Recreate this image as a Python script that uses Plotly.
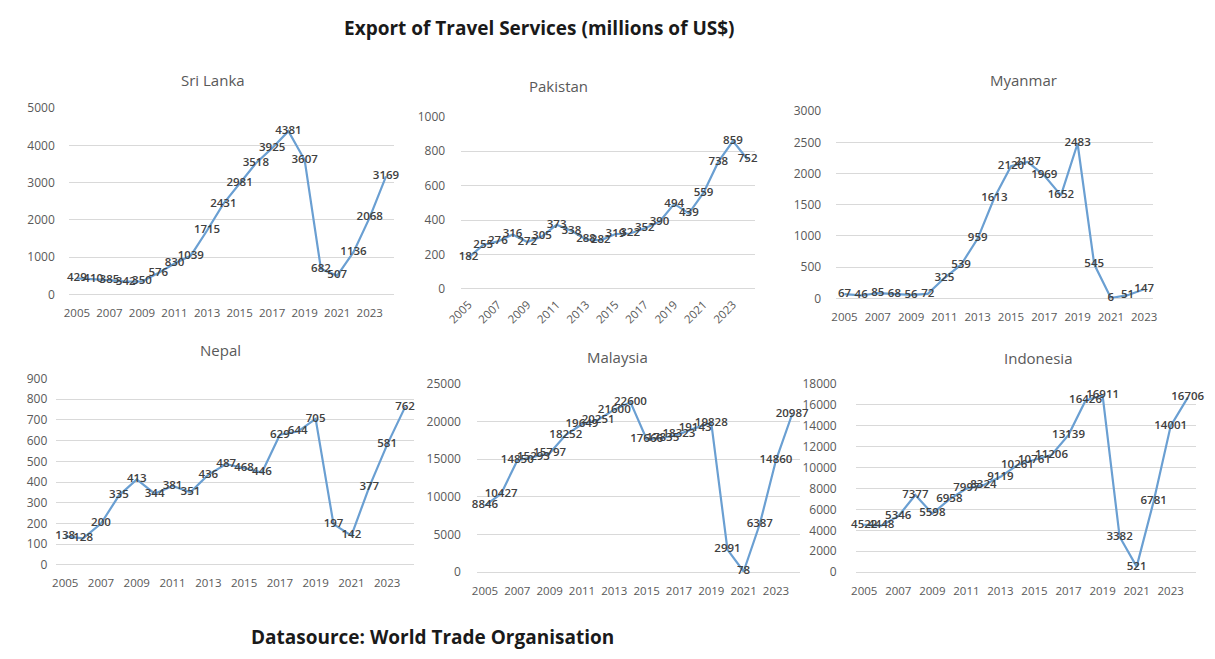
import plotly.graph_objects as go

W, H = 1215, 659

years_20 = list(range(2005, 2025))
years_19 = list(range(2005, 2024))

sri_lanka = [429, 410, 385, 342, 350, 576, 830, 1039, 1715, 2431,
             2981, 3518, 3925, 4381, 3607, 682, 507, 1136, 2068, 3169]
pakistan = [182, 255, 276, 316, 272, 305, 373, 338, 288, 282,
            319, 322, 352, 390, 494, 439, 559, 738, 859, 752]
myanmar = [67, 46, 85, 68, 56, 72, 325, 539, 959, 1613,
           2120, 2187, 1969, 1652, 2483, 545, 6, 51, 147]
nepal = [138, 128, 200, 335, 413, 344, 381, 351, 436, 487,
         468, 446, 629, 644, 705, 197, 142, 377, 581, 762]
malaysia = [8846, 10427, 14850, 15293, 15797, 18252, 19649, 20251, 21600, 22600,
            17666, 17835, 18323, 19143, 19828, 2991, 78, 6387, 14860, 20987]
indonesia = [4522, 4448, 5346, 7377, 5598, 6958, 7997, 8324, 9119, 10261,
             10761, 11206, 13139, 16426, 16911, 3382, 521, 6781, 14001, 16706]

tick_years = list(range(2005, 2024, 2))

# (name, years, values, y max, y step, plot box in px: left, right, top, bottom, label gap, tick angle)
panels = [
    ("Sri Lanka", years_20, sri_lanka, 5000, 1000, (53.7, 384.8, 101.7, 293), 13, 0),
    ("Pakistan", years_20, pakistan, 1000, 200, (453, 752, 110.7, 287.3), 15, -45),
    ("Myanmar", years_19, myanmar, 3000, 500, (834.6, 1156.5, 105, 297), 14, 0),
    ("Nepal", years_20, nepal, 900, 100, (41, 405, 379.3, 570.7), 8, 0),
    ("Malaysia", years_20, malaysia, 25000, 5000, (469, 798, 385, 578), 15, 0),
    ("Indonesia", years_20, indonesia, 18000, 2000, (854.5, 1201, 385, 578), 18, 0),
]

title_pos = [(200, 73), (552, 79), (1025, 73), (208, 350), (612, 357), (1040, 358)]

LINE = "#6a9fd2"
GRID = "#d9d9d9"
AX_TXT = "#595959"
LBL_TXT = "#404040"
FONT = "Open Sans"

fig = go.Figure()
annotations = []

for i, (name, yrs, vals, ymax, ystep, box, gap, angle) in enumerate(panels):
    idx = "" if i == 0 else str(i + 1)
    l, r, t, b = box
    fig.add_trace(go.Scatter(
        x=yrs, y=vals,
        mode="lines+text",
        text=[str(v) for v in vals],
        textposition="middle center",
        textfont=dict(family=FONT, size=11.5, color=LBL_TXT, weight=600),
        line=dict(color=LINE, width=2.2),
        cliponaxis=False,
        hoverinfo="x+y",
        showlegend=False,
        xaxis="x" + idx, yaxis="y" + idx,
    ))
    fig.layout["xaxis" + idx] = dict(
        domain=[l / W, r / W],
        anchor="y" + idx,
        range=[yrs[0] - 0.5, yrs[-1] + 0.5],
        tickmode="array", tickvals=tick_years,
        ticktext=[str(y) for y in tick_years],
        tickangle=angle,
        tickfont=dict(family=FONT, size=11.5, color=AX_TXT),
        ticklabelstandoff=6 if angle else 10,
        showgrid=False, zeroline=False, showline=False,
        fixedrange=True,
    )
    fig.layout["yaxis" + idx] = dict(
        domain=[1 - b / H, 1 - t / H],
        anchor="x" + idx,
        range=[0, ymax],
        tick0=0, dtick=ystep, tickformat="d",
        tickfont=dict(family=FONT, size=12, color=AX_TXT),
        ticklabelstandoff=gap,
        showgrid=True, gridcolor=GRID, gridwidth=1,
        zeroline=True, zerolinecolor=GRID, zerolinewidth=1,
        showline=False,
        fixedrange=True,
    )
    tx, ty = title_pos[i]
    annotations.append(dict(
        text=name, x=tx / W, y=1 - ty / H, xref="paper", yref="paper",
        xanchor="center", yanchor="middle", showarrow=False,
        font=dict(family=FONT, size=15, color=AX_TXT),
    ))

annotations.append(dict(
    text="<b>Export of Travel Services (millions of US$)</b>",
    x=533 / W, y=1 - 19 / H, xref="paper", yref="paper",
    xanchor="center", yanchor="middle", showarrow=False,
    font=dict(family=FONT, size=19, color="#1a1a1a"),
))
annotations.append(dict(
    text="<b>Datasource: World Trade Organisation</b>",
    x=424 / W, y=1 - 645 / H, xref="paper", yref="paper",
    xanchor="center", yanchor="middle", showarrow=False,
    font=dict(family=FONT, size=19, color="#1a1a1a"),
))

fig.update_layout(
    width=W, height=H,
    margin=dict(l=0, r=0, t=0, b=0),
    paper_bgcolor="white", plot_bgcolor="white",
    annotations=annotations,
)

fig.write_html("out.html")
